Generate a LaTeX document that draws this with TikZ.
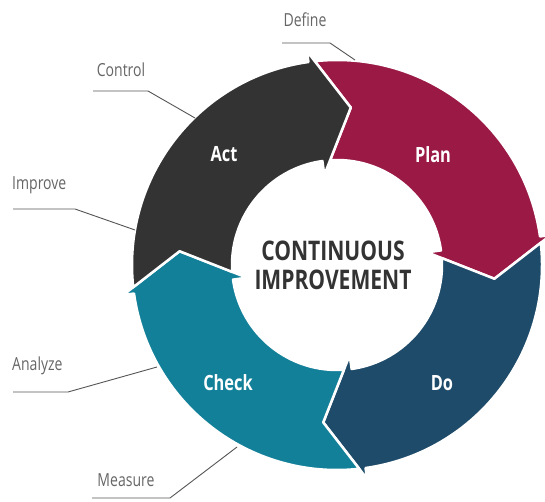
\documentclass[tikz,border=0pt]{standalone}
\usepackage{fontspec}
\setmainfont{Open Sans}[FakeStretch=0.78]
\usetikzlibrary{calc}

\definecolor{actgray}{HTML}{333333}
\definecolor{plancrimson}{HTML}{9A1A45}
\definecolor{donavy}{HTML}{1E4B69}
\definecolor{checkteal}{HTML}{13809A}
\definecolor{leadgray}{HTML}{555555}
\definecolor{labelgray}{HTML}{666666}
\definecolor{coretext}{HTML}{333333}

\tikzset{
  segment/.style={fill=#1, draw=white, line width=2.5pt, line join=round},
  steplabel/.style={text=white, inner sep=0pt, font=\bfseries\fontsize{21}{24}\selectfont},
  phase/.style={text=labelgray, inner sep=0pt, font=\fontsize{18}{21}\selectfont},
  leader/.style={draw=leadgray, line width=0.9pt},
}

% One ring segment: colour, tip angle of the previous arrow, own tip angle.
% Outer radius 205, inner radius 105, head wings at 216 / 91, tip at 158.
\newcommand\ringseg[3]{%
  \path[segment=#1]
    ({#2+11.22}:205) arc[start angle={#2+11.22}, end angle={#3+13}, radius=205]
    -- ({#3+13}:216) -- (#3:158) -- ({#3+13}:91) -- ({#3+13}:105)
    arc[start angle={#3+13}, end angle={#2+8.77}, radius=105]
    -- (#2:158) -- cycle;}

\begin{document}
\begin{tikzpicture}[x=1pt, y=1pt]
  \useasboundingbox (0,0) rectangle (545,501);
  \fill[white] (0,0) rectangle (545,501);

  % the cycle ring
  \begin{scope}[shift={(337,236)}]
    \ringseg{plancrimson}{85}{-5}
    \ringseg{donavy}{-5}{-95}
    \ringseg{checkteal}{-95}{-185}
    \ringseg{actgray}{-185}{-275}
  \end{scope}

  % step names on the ring
  \node[steplabel] (act)   at (224,347) {Act};
  \node[steplabel] (plan)  at (433,346) {Plan};
  \node[steplabel] (check) at (228,118) {Check};
  \node[steplabel] (do)    at (442,118) {Do};

  % centre title
  \node[text=coretext, align=center, inner sep=0pt,
        font=\bfseries\fontsize{27}{29}\selectfont] (core) at (333,236)
        {CONTINUOUS\\IMPROVEMENT};

  % phase names with leader lines
  \node[phase] (define)  at (305,481) {Define};
  \node[phase] (control) at (121,431) {Control};
  \node[phase, anchor=west] (improve) at (12,316) {Improve};
  \node[phase, anchor=west] (analyze) at (12,135) {Analyze};
  \node[phase] (measure) at (126,21) {Measure};

  \coordinate (defineA) at (282,458);  \coordinate (defineB) at (330,458);  \coordinate (defineC) at (355,441);
  \coordinate (controlA) at (93,410);  \coordinate (controlB) at (148,410); \coordinate (controlC) at (195,383);
  \coordinate (improveA) at (13,292);  \coordinate (improveB) at (75,292);  \coordinate (improveC) at (135,271);
  \coordinate (analyzeA) at (13,109);  \coordinate (analyzeB) at (68,109);  \coordinate (analyzeC) at (157,134);
  \coordinate (measureA) at (92,3);    \coordinate (measureB) at (170,3);   \coordinate (measureC) at (237,54);

  \draw[leader] (defineA) -- (defineB) -- (defineC);
  \draw[leader] (controlA) -- (controlB) -- (controlC);
  \draw[leader] (improveA) -- (improveB) -- (improveC);
  \draw[leader] (analyzeA) -- (analyzeB) -- (analyzeC);
  \draw[leader] (measureA) -- (measureB) -- (measureC);
\end{tikzpicture}
\end{document}
